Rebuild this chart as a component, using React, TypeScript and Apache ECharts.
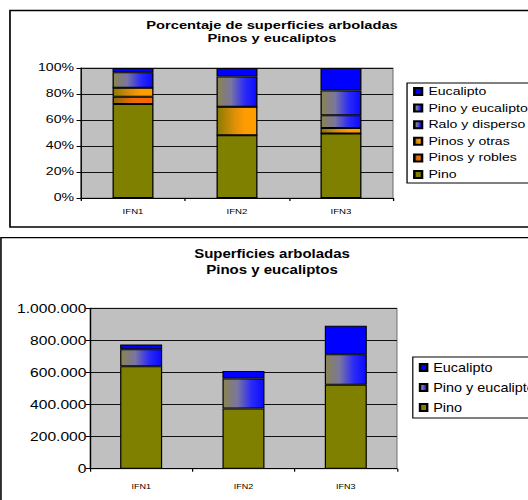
import React, { useEffect, useRef } from "react";
import * as echarts from "echarts";

const categories = ["IFN1", "IFN2", "IFN3"];

// Percentages (top chart)
const pctPino = [72.4, 48.2, 49.7];
const pctRobles = [5.5, 0, 0];
const pctOtras = [7.0, 21.9, 4.1];
const pctRalo = [0, 0, 9.9];
const pctPinoEuc = [11.8, 23.3, 18.9];
const pctEuc = [3.3, 6.6, 17.4];

// Surfaces (bottom chart)
const supPino = [638000, 376000, 524000];
const supPinoEuc = [106000, 187000, 189000];
const supEuc = [31000, 46000, 178000];

const FONT = 'Arial, "Liberation Sans", sans-serif';

const gradBlue = () =>
  new echarts.graphic.LinearGradient(0, 0, 1, 0, [
    { offset: 0, color: "#8a8450" },
    { offset: 0.35, color: "#7a76a0" },
    { offset: 0.7, color: "#2a2af8" },
    { offset: 1, color: "#0a0aff" },
  ]);
const gradOrange = () =>
  new echarts.graphic.LinearGradient(0, 0, 1, 0, [
    { offset: 0, color: "#8a7a00" },
    { offset: 0.45, color: "#e0900a" },
    { offset: 0.7, color: "#ff9c00" },
    { offset: 1, color: "#ff9c00" },
  ]);
const gradRed = () =>
  new echarts.graphic.LinearGradient(0, 0, 1, 0, [
    { offset: 0, color: "#8a6a00" },
    { offset: 0.5, color: "#f06a05" },
    { offset: 1, color: "#ff6600" },
  ]);

const thousands = (v: number) =>
  String(v).replace(/\B(?=(\d{3})+(?!\d))/g, ".");

function barSeries(name: string, data: number[], color: any, width: number) {
  return {
    name,
    type: "bar",
    stack: "total",
    data,
    barWidth: width,
    itemStyle: { color, borderColor: "#000", borderWidth: 1 },
  };
}

function topOption(): any {
  return {
    animation: false,
    textStyle: { fontFamily: FONT },
    graphic: [
      {
        type: "rect",
        shape: { x: 7.8, y: 10.5, width: 520, height: 216.5 },
        style: { fill: "none", stroke: "#000", lineWidth: 1.3 },
        silent: true,
      },
      {
        type: "text",
        x: 212.5,
        y: 31.4,
        style: {
          text: "Porcentaje de superficies arboladas\nPinos y eucaliptos",
          fontSize: 11.5,
          fontWeight: "bold",
          fontFamily: FONT,
          fill: "#000",
          align: "center",
          verticalAlign: "middle",
          lineHeight: 12.7,
        },
      },
    ],
    grid: {
      left: 63.3,
      top: 68,
      width: 243.7,
      height: 130,
      show: true,
      backgroundColor: "#c0c0c0",
      borderColor: "#808080",
      borderWidth: 1,
    },
    legend: {
      orient: "vertical",
      left: 318,
      top: 83,
      padding: [3, 40, 3, 4.7],
      itemGap: 5.6,
      itemWidth: 6,
      itemHeight: 7,
      icon: "rect",
      borderColor: "#000",
      borderWidth: 1,
      backgroundColor: "#fff",
      textStyle: { fontSize: 11, lineHeight: 11, color: "#000", fontFamily: FONT },
      data: [
        "Eucalipto",
        "Pino y eucalipto",
        "Ralo y disperso",
        "Pinos y otras",
        "Pinos y robles",
        "Pino",
      ],
    },
    xAxis: {
      type: "category",
      data: categories,
      axisLine: { lineStyle: { color: "#000" } },
      axisTick: { show: true, length: 3, lineStyle: { color: "#000" } },
      axisLabel: { fontSize: 7.5, color: "#000", margin: 9, fontFamily: FONT },
    },
    yAxis: {
      type: "value",
      min: 0,
      max: 100,
      interval: 20,
      axisLine: { show: true, lineStyle: { color: "#000" } },
      axisTick: { show: true, length: 3.5, lineStyle: { color: "#000" } },
      axisLabel: {
        formatter: "{value}%",
        fontSize: 11,
        color: "#000",
        margin: 5.5,
        fontFamily: FONT,
      },
      splitLine: { lineStyle: { color: "#111" } },
    },
    series: [
      barSeries("Pino", pctPino, "#808000", 32),
      barSeries("Pinos y robles", pctRobles, gradRed(), 32),
      barSeries("Pinos y otras", pctOtras, gradOrange(), 32),
      barSeries("Ralo y disperso", pctRalo, gradBlue(), 32),
      barSeries("Pino y eucalipto", pctPinoEuc, gradBlue(), 32),
      barSeries("Eucalipto", pctEuc, "#0000ff", 32),
    ],
  };
}

function bottomOption(): any {
  return {
    animation: false,
    textStyle: { fontFamily: FONT },
    graphic: [
      {
        type: "rect",
        shape: { x: 0.8, y: 5.7, width: 520, height: 300 },
        style: { fill: "none", stroke: "#000", lineWidth: 1.3 },
        silent: true,
      },
      {
        type: "text",
        x: 226.7,
        y: 30,
        style: {
          text: "Superficies arboladas\nPinos y eucaliptos",
          fontSize: 12.5,
          fontWeight: "bold",
          fontFamily: FONT,
          fill: "#000",
          align: "center",
          verticalAlign: "middle",
          lineHeight: 16,
        },
      },
    ],
    grid: {
      left: 75,
      top: 76.3,
      width: 255.8,
      height: 160.4,
      show: true,
      backgroundColor: "#c0c0c0",
      borderColor: "#808080",
      borderWidth: 1,
    },
    legend: {
      orient: "vertical",
      left: 344,
      top: 125,
      padding: [4.5, 40, 4.5, 5],
      itemGap: 8,
      itemWidth: 6,
      itemHeight: 7,
      icon: "rect",
      borderColor: "#000",
      borderWidth: 1,
      backgroundColor: "#fff",
      textStyle: { fontSize: 12, lineHeight: 12, color: "#000", fontFamily: FONT },
      data: ["Eucalipto", "Pino y eucalipto", "Pino"],
    },
    xAxis: {
      type: "category",
      data: categories,
      axisLine: { lineStyle: { color: "#000" } },
      axisTick: { show: true, length: 3, lineStyle: { color: "#000" } },
      axisLabel: { fontSize: 7.5, color: "#000", margin: 14, fontFamily: FONT },
    },
    yAxis: {
      type: "value",
      min: 0,
      max: 1000000,
      interval: 200000,
      axisLine: { show: true, lineStyle: { color: "#000" } },
      axisTick: { show: true, length: 3.5, lineStyle: { color: "#000" } },
      axisLabel: {
        formatter: (v: number) => thousands(v),
        fontSize: 13,
        color: "#000",
        margin: 3,
        fontFamily: FONT,
      },
      splitLine: { lineStyle: { color: "#111" } },
    },
    series: [
      barSeries("Pino", supPino, "#808000", 35),
      barSeries("Pino y eucalipto", supPinoEuc, gradBlue(), 35),
      barSeries("Eucalipto", supEuc, "#0000ff", 35),
    ],
  };
}

function Chart({
  top,
  height,
  scale,
  option,
}: {
  top: number;
  height: number;
  scale: number;
  option: () => any;
}) {
  const ref = useRef<HTMLDivElement>(null);
  useEffect(() => {
    if (!ref.current) return;
    const chart = echarts.init(ref.current, undefined, { renderer: "svg" });
    chart.setOption(option());
    return () => chart.dispose();
  }, []);
  return (
    <div
      ref={ref}
      style={{
        position: "absolute",
        left: 0,
        top,
        width: 528 / scale,
        height,
        transform: `scaleX(${scale})`,
        transformOrigin: "0 0",
        overflow: "hidden",
      }}
    />
  );
}

export default function App() {
  return (
    <div
      style={{
        position: "absolute",
        left: 0,
        top: 0,
        width: 528,
        height: 500,
        background: "#fff",
        overflow: "hidden",
      }}
    >
      <Chart top={0} height={232} scale={1.28} option={topOption} />
      <Chart top={232} height={268} scale={1.2} option={bottomOption} />
    </div>
  );
}
